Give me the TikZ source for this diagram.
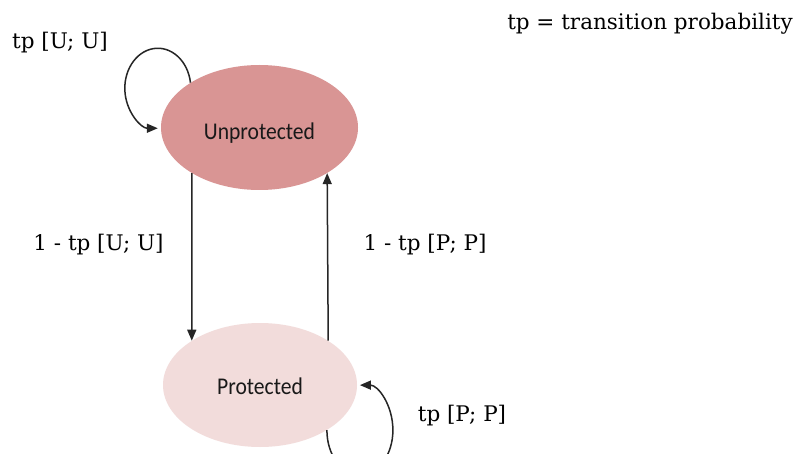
\documentclass[tikz,border=0pt]{standalone}
\usepackage{fontspec}
\setmainfont{DejaVu Serif}
\newfontfamily\nodefont{Carlito}
\usetikzlibrary{arrows.meta,shapes.geometric}
\definecolor{unprot}{HTML}{D99594}
\definecolor{prot}{HTML}{F2DCDB}
\definecolor{edgecol}{HTML}{262626}
\tikzset{
  state/.style={ellipse, draw=none, inner sep=0pt, font=\nodefont\fontsize{24}{24}\selectfont, text=black!90},
  lbl/.style={inner sep=0pt, font=\fontsize{21.5}{21.5}\selectfont, text=black},
  edge/.style={draw=edgecol, line width=1.5pt, -{Triangle[length=11pt,width=9pt]}}
}
\begin{document}
\begin{tikzpicture}[x=1pt,y=1pt]
\clip (0,0) rectangle (803,453);
\fill[white] (0,0) rectangle (803,453);
\node[state, fill=unprot, minimum width=197pt, minimum height=125pt, text height=26pt, text depth=2.6pt] (U) at (259.5,325.5) {\scalebox{0.9}[1]{Unprotected}};
\node[state, fill=prot, minimum width=194pt, minimum height=124pt, text height=22pt, text depth=3.6pt] (P) at (260,68) {\scalebox{0.9}[1]{Protected}};
\draw[edge] (U.214) -- (P.147);
\draw[edge] (P.33) -- (U.326);
\draw[edge] (U.147) arc[start angle=8, end angle=270, x radius=33, y radius=40];
\draw[edge] (P.-34) arc[start angle=180, end angle=450, x radius=33, y radius=45];
\node[lbl] (l1) at (60,410) {tp [U; U]};
\node[lbl] (l2) at (98.5,208) {1 - tp [U; U]};
\node[lbl] (l3) at (425,208) {1 - tp [P; P]};
\node[lbl] (l4) at (462,37) {tp [P; P]};
\node[lbl] (l5) at (650,429) {tp = transition probability};
\end{tikzpicture}
\end{document}
